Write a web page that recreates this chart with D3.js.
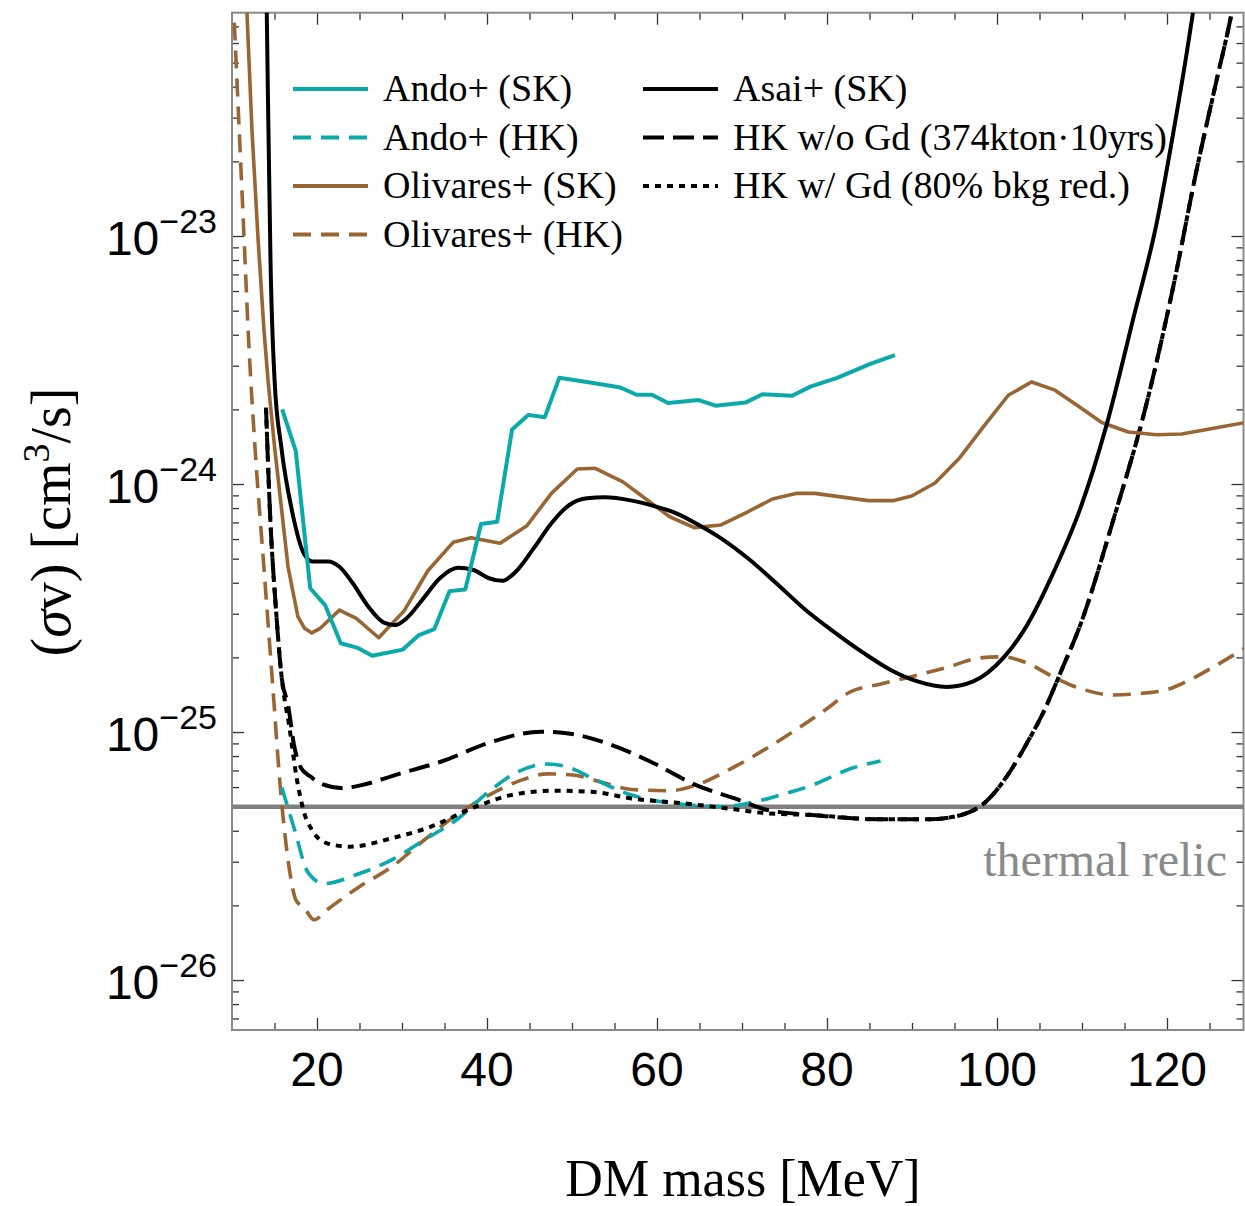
<!DOCTYPE html>
<html>
<head>
<meta charset="utf-8">
<script src="https://cdn.jsdelivr.net/npm/d3@7"></script>
<style>
  body { margin: 0; background: #fff; }
</style>
</head>
<body>
<div id="chart"></div>
<script>
// values: [DM mass (MeV), <sigma v> (cm^3/s)]
const andoSK = [
  [15.9, 2.0e-24], [17.5, 1.36e-24], [19.2, 3.8e-25], [20.95, 3.25e-25],
  [22.8, 2.28e-25], [24.7, 2.19e-25], [26.5, 2.03e-25], [30.1, 2.15e-25],
  [32.0, 2.46e-25], [33.8, 2.6e-25], [35.6, 3.7e-25], [37.45, 3.76e-25],
  [39.3, 6.9e-25], [41.2, 7.05e-25], [42.95, 1.66e-24], [44.85, 1.9e-24],
  [46.8, 1.86e-24], [48.5, 2.68e-24], [52.3, 2.56e-24], [55.7, 2.45e-24],
  [57.6, 2.29e-24], [59.4, 2.29e-24], [61.3, 2.12e-24], [64.9, 2.18e-24],
  [66.9, 2.07e-24], [70.4, 2.13e-24], [72.4, 2.3e-24], [75.9, 2.27e-24],
  [78.05, 2.47e-24], [81.2, 2.68e-24], [85.1, 3.05e-24], [88.0, 3.31e-24]
];

const andoHK = [
  [15.86, 5.98e-26], [17.4, 4.0e-26], [18.9, 2.73e-26], [20.8, 2.45e-26],
  [25.0, 2.69e-26], [28.8, 3.05e-26], [32.6, 3.67e-26], [36.4, 4.42e-26],
  [40.2, 5.74e-26], [43.3, 6.82e-26], [47.1, 7.43e-26], [49.4, 7.25e-26],
  [52.4, 6.51e-26], [57.0, 5.57e-26], [63.1, 5.11e-26], [67.6, 5.0e-26],
  [70.7, 5.16e-26], [74.5, 5.57e-26], [78.3, 6.11e-26], [82.9, 7.14e-26],
  [86.3, 7.64e-26]
];

const olivaresSK = [
  [11.5, 1.1e-22], [11.76, 7.94e-23], [12.35, 2.67e-23], [13.06, 9.8e-24],
  [13.76, 4.18e-24], [14.24, 2.62e-24], [15.01, 1.41e-24], [15.8, 8.1e-25],
  [16.59, 4.64e-25], [17.75, 2.92e-25], [18.54, 2.62e-25], [19.38, 2.51e-25],
  [20.38, 2.62e-25], [22.64, 3.1e-25], [24.62, 2.87e-25], [27.26, 2.4e-25],
  [30.25, 3.08e-25], [33.04, 4.47e-25], [36.02, 5.82e-25], [38.13, 6.07e-25],
  [41.54, 5.77e-25], [44.69, 6.79e-25], [47.58, 9.17e-25], [50.62, 1.15e-24],
  [52.73, 1.157e-24], [55.99, 1.02e-24], [59.13, 8.48e-25], [61.49, 7.38e-25],
  [64.39, 6.67e-25], [67.53, 6.84e-25], [70.69, 7.73e-25], [73.58, 8.7e-25],
  [76.47, 9.17e-25], [78.56, 9.17e-25], [84.87, 8.57e-25], [87.76, 8.57e-25],
  [89.96, 8.95e-25], [92.71, 1.01e-24], [95.65, 1.28e-24], [98.39, 1.7e-24],
  [101.33, 2.28e-24], [104.08, 2.58e-24], [106.82, 2.39e-24], [109.76, 2.04e-24],
  [112.32, 1.77e-24], [115.45, 1.62e-24], [118.79, 1.58e-24], [121.73, 1.59e-24],
  [124.67, 1.66e-24], [129.18, 1.77e-24]
];

const olivaresHK = [
  [10.12, 9.4e-23], [10.76, 3.11e-23], [11.36, 1.09e-23], [11.96, 3.78e-24],
  [12.76, 1.32e-24], [13.76, 4.58e-25], [14.76, 1.59e-25], [15.76, 5.57e-26],
  [16.76, 2.78e-26], [17.53, 2.1e-26], [18.52, 1.95e-26], [19.66, 1.75e-26],
  [21.19, 1.92e-26], [24.99, 2.38e-26], [28.8, 2.86e-26], [32.61, 3.67e-26],
  [36.41, 4.63e-26], [40.22, 5.57e-26], [44.04, 6.4e-26], [47.08, 6.78e-26],
  [50.12, 6.71e-26], [53.93, 6.21e-26], [56.98, 5.87e-26], [61.54, 5.8e-26],
  [64.59, 6.11e-26], [69.15, 7.25e-26], [74.49, 9.29e-26], [79.82, 1.23e-25],
  [82.71, 1.45e-25], [86.24, 1.56e-25], [90.15, 1.68e-25], [94.08, 1.82e-25],
  [98.0, 1.99e-25], [100.74, 2.01e-25], [103.49, 1.9e-25], [106.62, 1.67e-25],
  [109.76, 1.5e-25], [113.68, 1.41e-25], [116.82, 1.43e-25], [119.96, 1.48e-25],
  [122.32, 1.6e-25], [125.45, 1.83e-25], [129.18, 2.18e-25]
];

const asaiSK = [
  [14.05, 1.1e-22], [14.09, 7.95e-23], [14.29, 2.67e-23], [14.53, 8.0e-24],
  [15.01, 2.62e-24], [15.8, 1.41e-24], [17.12, 7.62e-25], [18.44, 5.26e-25],
  [19.48, 4.87e-25], [21.32, 4.87e-25], [22.64, 4.64e-25], [24.21, 3.98e-25],
  [26.05, 3.2e-25], [27.88, 2.76e-25], [29.2, 2.7e-25], [30.51, 2.87e-25],
  [32.35, 3.4e-25], [34.45, 4.17e-25], [36.55, 4.6e-25], [38.39, 4.5e-25],
  [40.24, 4.17e-25], [41.8, 4.07e-25], [43.38, 4.43e-25], [45.48, 5.5e-25],
  [47.58, 6.95e-25], [49.68, 8.23e-25], [51.78, 8.76e-25], [53.88, 8.84e-25],
  [57.04, 8.57e-25], [59.66, 8.15e-25], [62.28, 7.62e-25], [64.92, 6.84e-25],
  [67.54, 6.04e-25], [70.69, 5.02e-25], [73.84, 4.04e-25], [77.52, 3.1e-25],
  [80.66, 2.56e-25], [84.34, 2.08e-25], [87.49, 1.78e-25], [90.65, 1.6e-25],
  [94.08, 1.52e-25], [97.21, 1.6e-25], [100.74, 1.99e-25], [103.49, 2.68e-25],
  [106.62, 4.38e-25], [109.76, 7.9e-25], [112.91, 1.74e-24], [116.04, 4.66e-24],
  [118.79, 1.13e-23], [120.74, 2.61e-23], [122.32, 5.47e-23], [123.09, 8.1e-23],
  [123.53, 1.03e-22]
];

// HK curves: shared steep rise at low mass and shared tail above ~78 MeV
const hkLowMass = [
  [14.0, 2.03e-24], [14.47, 7.7e-25], [15.18, 3.1e-25], [15.88, 1.62e-25]
];
const hkNoGdMid = [
  [16.59, 1.29e-25], [17.29, 8.87e-26], [18.12, 7.16e-26], [19.28, 6.6e-26],
  [20.42, 6.2e-26], [23.09, 5.94e-26], [24.99, 6.08e-26], [29.56, 6.77e-26],
  [34.89, 7.66e-26], [40.22, 9.05e-26], [46.32, 1.003e-25], [49.36, 9.89e-26],
  [54.69, 8.86e-26], [59.26, 7.59e-26], [64.59, 6.11e-26], [69.15, 5.4e-26],
  [72.96, 4.85e-26]
];
const hkGdMid = [
  [16.71, 1.07e-25], [17.65, 6.4e-26], [18.47, 4.75e-26], [19.41, 4.03e-26],
  [21.19, 3.56e-26], [23.85, 3.45e-26], [28.8, 3.73e-26], [33.36, 4.15e-26],
  [38.69, 5.0e-26], [43.27, 5.61e-26], [47.84, 5.8e-26], [52.41, 5.74e-26],
  [56.98, 5.4e-26], [63.06, 5.16e-26], [69.15, 4.88e-26], [72.96, 4.7e-26]
];
const hkHighMass = [
  [78.29, 4.63e-26], [85.91, 4.45e-26], [92.0, 4.45e-26], [95.81, 4.63e-26],
  [98.47, 5.16e-26], [101.5, 6.9e-26], [103.5, 9.0e-26], [105.5, 1.21e-25],
  [107.6, 1.78e-25], [109.76, 2.68e-25], [113.68, 7.16e-25], [117.61, 2.12e-24],
  [120.74, 6.26e-24], [123.49, 1.85e-23], [125.85, 4.27e-23], [127.41, 7.35e-23],
  [128.12, 9.8e-23]
];

const thermalRelic = 5e-26;
const xMajor = [20, 40, 60, 80, 100, 120];
const xMinor = [15, 25, 30, 35, 45, 50, 55, 65, 70, 75, 85, 90, 95, 105, 110, 115, 125];
const yExponents = [-26, -25, -24, -23];

const teal = "#0aaaaa", brown = "#996633";

const W = 1245, H = 1206;
const plot = { left: 232, right: 1243.5, top: 12.7, bottom: 1030 };

const x = d3.scaleLinear().domain([10, 129]).range([plot.left, plot.right]);
const y = d3.scaleLog().domain([6.29e-27, 7.95e-23]).range([plot.bottom, plot.top]);

const svg = d3.select("#chart").append("svg")
  .attr("width", W)
  .attr("height", H)
  .style("background", "#fff");

svg.append("defs").append("clipPath")
  .attr("id", "clip")
  .append("rect")
  .attr("x", plot.left)
  .attr("y", plot.top)
  .attr("width", plot.right - plot.left)
  .attr("height", plot.bottom - plot.top);

// ticks, all pointing inward (frame style)
const yMinor = [];
for (let e = -27; e <= -23; e++) {
  for (let k = 2; k <= 9; k++) {
    const v = k * Math.pow(10, e);
    if (v > y.domain()[0] && v < y.domain()[1]) yMinor.push(v);
  }
}
const yMajor = yExponents.map(e => Math.pow(10, e));

function tickAxis(axisFn, scale, values, size, transform) {
  const g = svg.append("g")
    .attr("transform", transform)
    .call(axisFn(scale).tickValues(values).tickSize(-size).tickFormat(""));
  g.select(".domain").remove();
  g.selectAll("line").attr("stroke", "#333").attr("stroke-width", 1.3);
  return g;
}

tickAxis(d3.axisBottom, x, xMinor, 7, `translate(0,${plot.bottom})`);
tickAxis(d3.axisBottom, x, xMajor, 12, `translate(0,${plot.bottom})`);
tickAxis(d3.axisTop, x, xMinor, 7, `translate(0,${plot.top})`);
tickAxis(d3.axisTop, x, xMajor, 12, `translate(0,${plot.top})`);
tickAxis(d3.axisLeft, y, yMinor, 7, `translate(${plot.left},0)`);
tickAxis(d3.axisLeft, y, yMajor, 12, `translate(${plot.left},0)`);
tickAxis(d3.axisRight, y, yMinor, 7, `translate(${plot.right},0)`);
tickAxis(d3.axisRight, y, yMajor, 12, `translate(${plot.right},0)`);

// frame
svg.append("rect")
  .attr("x", plot.left)
  .attr("y", plot.top)
  .attr("width", plot.right - plot.left)
  .attr("height", plot.bottom - plot.top)
  .attr("fill", "none")
  .attr("stroke", "#8a8a8a")
  .attr("stroke-width", 2);

// tick labels
svg.append("g").selectAll("text")
  .data(xMajor)
  .join("text")
  .attr("x", d => x(d))
  .attr("y", plot.bottom + 56)
  .attr("text-anchor", "middle")
  .style("font-family", "'Liberation Sans', Arial, sans-serif")
  .style("font-size", "48px")
  .text(d => d);

const yLab = svg.append("g").selectAll("text")
  .data(yExponents)
  .join("text")
  .attr("x", 217)
  .attr("y", d => y(Math.pow(10, d)) + 19)
  .attr("text-anchor", "end")
  .style("font-family", "'Liberation Sans', Arial, sans-serif")
  .style("font-size", "48px");
yLab.append("tspan").text("10");
yLab.append("tspan")
  .attr("dy", -22)
  .style("font-size", "34px")
  .text(d => "\u2212" + Math.abs(d));

// axis titles
svg.append("text")
  .attr("x", 743)
  .attr("y", 1196)
  .attr("text-anchor", "middle")
  .style("font-family", "'Liberation Serif', 'Times New Roman', serif")
  .style("font-size", "52px")
  .text("DM mass [MeV]");

const yt = svg.append("text")
  .attr("transform", "translate(70,522) rotate(-90)")
  .attr("text-anchor", "middle")
  .style("font-family", "'Liberation Serif', 'Times New Roman', serif")
  .style("font-size", "56px");
yt.append("tspan").text("(");
yt.append("tspan").style("font-style", "italic").text("\u03c3");
yt.append("tspan").text("v) [cm");
yt.append("tspan").attr("dy", -21).style("font-size", "38px").text("3");
yt.append("tspan").attr("dy", 21).text("/s]");

// curves
const series = [
  { data: olivaresHK, color: brown, dash: "18,10", width: 3.6, curve: d3.curveMonotoneX },
  { data: andoHK, color: teal, dash: "18,10", width: 3.6, curve: d3.curveMonotoneX },
  { data: hkLowMass.concat(hkGdMid, hkHighMass), color: "#000", dash: "6,6", width: 4, curve: d3.curveMonotoneX },
  { data: hkLowMass.concat(hkNoGdMid, hkHighMass), color: "#000", dash: "21,9", width: 4, curve: d3.curveMonotoneX },
  { data: olivaresSK, color: brown, dash: null, width: 3.6, curve: d3.curveLinear },
  { data: asaiSK, color: "#000", dash: null, width: 4, curve: d3.curveMonotoneX },
  { data: andoSK, color: teal, dash: null, width: 4, curve: d3.curveLinear }
];

const curves = svg.append("g").attr("clip-path", "url(#clip)");

curves.append("line")
  .attr("x1", plot.left)
  .attr("x2", plot.right)
  .attr("y1", y(thermalRelic))
  .attr("y2", y(thermalRelic))
  .attr("stroke", "#808080")
  .attr("stroke-width", 4.5);

series.forEach(s => {
  const line = d3.line()
    .x(d => x(d[0]))
    .y(d => y(d[1]))
    .curve(s.curve);
  curves.append("path")
    .datum(s.data)
    .attr("d", line)
    .attr("fill", "none")
    .attr("stroke", s.color)
    .attr("stroke-width", s.width)
    .attr("stroke-dasharray", s.dash)
    .attr("stroke-linejoin", "round");
});

svg.append("text")
  .attr("x", 1227)
  .attr("y", 876)
  .attr("text-anchor", "end")
  .style("font-family", "'Liberation Serif', 'Times New Roman', serif")
  .style("font-size", "48px")
  .style("fill", "#8a8a8a")
  .text("thermal relic");

// legend
const legendItems = [
  { label: "Ando+ (SK)", color: teal, dash: null, col: 0, row: 0 },
  { label: "Ando+ (HK)", color: teal, dash: "18,10", col: 0, row: 1 },
  { label: "Olivares+ (SK)", color: brown, dash: null, col: 0, row: 2 },
  { label: "Olivares+ (HK)", color: brown, dash: "18,10", col: 0, row: 3 },
  { label: "Asai+ (SK)", color: "#000", dash: null, col: 1, row: 0 },
  { label: "HK w/o Gd (374kton\u00b710yrs)", color: "#000", dash: "21,9", col: 1, row: 1 },
  { label: "HK w/ Gd (80% bkg red.)", color: "#000", dash: "6,6", col: 1, row: 2 }
];

const leg = svg.append("g").selectAll("g")
  .data(legendItems)
  .join("g")
  .attr("transform", d => `translate(${d.col ? 643 : 293},${89 + d.row * 48.5})`);

leg.append("line")
  .attr("x1", 0)
  .attr("x2", 75)
  .attr("stroke", d => d.color)
  .attr("stroke-width", 4)
  .attr("stroke-dasharray", d => d.dash);

leg.append("text")
  .attr("x", 90)
  .attr("y", 12)
  .style("font-family", "'Liberation Serif', 'Times New Roman', serif")
  .style("font-size", "38px")
  .text(d => d.label);
</script>
</body>
</html>
